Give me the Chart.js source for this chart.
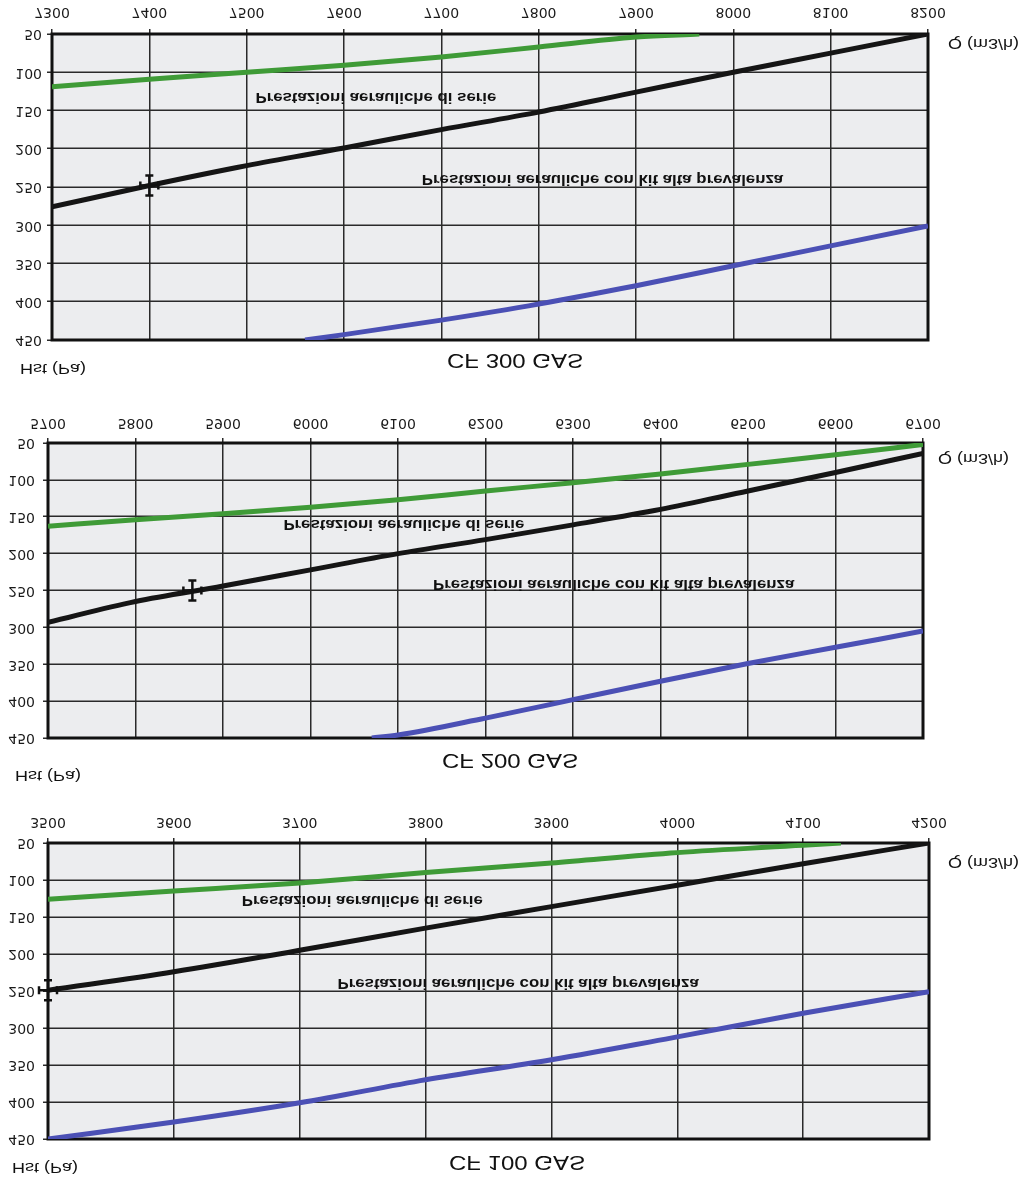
<!DOCTYPE html>
<html>
<head>
<meta charset="utf-8">
<script src="https://cdn.jsdelivr.net/npm/chart.js@4.4.0/dist/chart.umd.min.js"></script>
<style>
html, body { margin: 0; padding: 0; background: #fff; }
.blk { width: 1024px; }
.blk canvas { display: block; transform: scaleY(-1); }
</style>
</head>
<body>
<div class="blk"><canvas id="cf300" width="1024" height="390"></canvas></div>
<div class="blk"><canvas id="cf200" width="1024" height="400"></canvas></div>
<div class="blk"><canvas id="cf100" width="1024" height="388"></canvas></div>
<script>
// CF 300 GAS - portata Q (m3/h), prevalenza Hst (Pa)
const cf300SerieQ = [7300, 7400, 7500, 7600, 7700, 7800, 7900, 7965];
const cf300SerieH = [119, 109, 100, 91, 80, 67, 54, 50];
const cf300NomQ = [7300, 7400, 7500, 7600, 7700, 7800, 7900, 8000, 8100, 8200];
const cf300NomH = [276, 248, 222, 199, 175, 152, 126, 100, 75, 50];
const cf300KitQ = [7560, 7600, 7700, 7800, 7900, 8000, 8100, 8200];
const cf300KitH = [450, 443, 424, 403, 379, 353, 327, 301];
const cf300Point = [7400, 248];

// CF 200 GAS
const cf200SerieQ = [5700, 5800, 5900, 6000, 6100, 6200, 6300, 6400, 6500, 6600, 6700];
const cf200SerieH = [163, 154, 146, 137, 127, 115, 104, 92, 79, 66, 52];
const cf200NomQ = [5700, 5800, 5900, 6000, 6100, 6200, 6300, 6400, 6500, 6600, 6700];
const cf200NomH = [293, 265, 244, 222, 200, 181, 161, 140, 115, 90, 64];
const cf200KitQ = [6070, 6100, 6200, 6300, 6400, 6500, 6600, 6700];
const cf200KitH = [450, 446, 423, 398, 373, 349, 327, 305];
const cf200Point = [5865, 250];

// CF 100 GAS
const cf100SerieQ = [3500, 3600, 3700, 3800, 3900, 4000, 4100, 4130];
const cf100SerieH = [126, 115, 104, 90, 77, 63, 53, 50];
const cf100NomQ = [3500, 3600, 3700, 3800, 3900, 4000, 4100, 4200];
const cf100NomH = [249, 224, 195, 165, 136, 107, 78, 50];
const cf100KitQ = [3500, 3600, 3700, 3800, 3900, 4000, 4100, 4200];
const cf100KitH = [450, 427, 401, 370, 343, 312, 280, 251];
const cf100Point = [3500, 249];

// assi
const hMin = 50, hMax = 450, hStep = 50, qStep = 100;
const cf300Range = [7300, 8200];
const cf200Range = [5700, 6700];
const cf100Range = [3500, 4200];

const txtSerie = 'Prestazioni aerauliche di serie';
const txtKit = 'Prestazioni aerauliche con kit alta prevalenza';

// posizione delle scritte (in valori degli assi)
const cf300Notes = [[7509, 132], [7680, 240]];
const cf200Notes = [[5969, 160], [6140, 241]];
const cf100Notes = [[3654, 127], [3730, 239]];

const colSerie = '#3f9b37';
const colNom = '#151515';
const colKit = '#4b50b5';

function pts(q, h) {
    return q.map((v, i) => ({ x: v, y: h[i] }));
}

function drawText(ctx, txt, x, y, font, align) {
    ctx.save();
    ctx.translate(x, y);
    ctx.scale(1.2, 1); // il disegno originale e' un po' "allargato"
    ctx.font = font;
    ctx.textAlign = align;
    ctx.textBaseline = 'middle';
    ctx.fillStyle = '#111';
    ctx.fillText(txt, 0, 0);
    ctx.restore();
}

function makeChart(id, title, range, series, point, notes, lay) {
    const decor = {
        id: 'decor',
        beforeDraw(chart) {
            const a = chart.chartArea, ctx = chart.ctx;
            ctx.save();
            ctx.fillStyle = '#ecedef';
            ctx.fillRect(a.left, a.top, a.right - a.left, a.bottom - a.top);
            ctx.restore();
        },
        beforeDatasetsDraw(chart) {
            const a = chart.chartArea, ctx = chart.ctx;
            ctx.save();
            ctx.strokeStyle = '#111';
            ctx.lineWidth = 3;
            ctx.strokeRect(a.left, a.top, a.right - a.left, a.bottom - a.top);
            ctx.restore();
        },
        afterDatasetsDraw(chart) {
            const ctx = chart.ctx, sx = chart.scales.x, sy = chart.scales.y;
            // punto di lavoro
            const px = sx.getPixelForValue(point[0]);
            const py = sy.getPixelForValue(point[1]);
            ctx.save();
            ctx.strokeStyle = '#111';
            ctx.lineWidth = 2.5;
            ctx.beginPath();
            ctx.moveTo(px - 9, py); ctx.lineTo(px + 9, py);
            ctx.moveTo(px, py - 10); ctx.lineTo(px, py + 10);
            ctx.moveTo(px - 9, py - 4); ctx.lineTo(px - 9, py + 4);
            ctx.moveTo(px + 9, py - 4); ctx.lineTo(px + 9, py + 4);
            ctx.moveTo(px - 4, py - 10); ctx.lineTo(px + 4, py - 10);
            ctx.moveTo(px - 4, py + 10); ctx.lineTo(px + 4, py + 10);
            ctx.stroke();
            ctx.restore();

            const f = 'bold 14px "Liberation Sans", Arial, sans-serif';
            drawText(ctx, txtSerie, sx.getPixelForValue(notes[0][0]), sy.getPixelForValue(notes[0][1]), f, 'left');
            drawText(ctx, txtKit, sx.getPixelForValue(notes[1][0]), sy.getPixelForValue(notes[1][1]), f, 'left');

            drawText(ctx, title, lay.titleX, lay.titleY, '20px "Liberation Sans", Arial, sans-serif', 'center');
            drawText(ctx, 'Hst (Pa)', lay.hstX, lay.hstY, '15px "Liberation Sans", Arial, sans-serif', 'left');
            drawText(ctx, 'Q (m3/h)', lay.qX, lay.qY, '15px "Liberation Sans", Arial, sans-serif', 'left');
        }
    };

    return new Chart(document.getElementById(id), {
        type: 'line',
        data: {
            datasets: series.map(s => ({
                data: pts(s.q, s.h),
                borderColor: s.color,
                borderWidth: 5,
                pointRadius: 0,
                tension: 0.3,
                cubicInterpolationMode: 'monotone',
                fill: false
            }))
        },
        options: {
            responsive: false,
            animation: false,
            layout: { padding: lay.pad },
            plugins: { legend: { display: false }, tooltip: { enabled: false } },
            scales: {
                x: {
                    type: 'linear',
                    min: range[0],
                    max: range[1],
                    afterFit: (axis) => { axis.height = lay.xHeight; },
                    ticks: {
                        stepSize: qStep,
                        padding: lay.xPad,
                        color: '#1a1a1a',
                        font: { family: 'DejaVu Sans', size: 14 },
                        callback: (v) => String(v)
                    },
                    grid: { color: '#2a2a2a', lineWidth: 1.5, tickLength: 5 },
                    border: { display: false }
                },
                y: {
                    min: hMin,
                    max: hMax,
                    afterFit: (axis) => { axis.width = lay.yWidth; },
                    ticks: {
                        stepSize: hStep,
                        padding: lay.yPad,
                        color: '#1a1a1a',
                        font: { family: 'DejaVu Sans', size: 14 },
                        callback: (v) => String(v)
                    },
                    grid: { color: '#2a2a2a', lineWidth: 1.5, tickLength: 5 },
                    border: { display: false }
                }
            }
        },
        plugins: [decor]
    });
}

makeChart('cf300', 'CF 300 GAS', cf300Range, [
    { q: cf300SerieQ, h: cf300SerieH, color: colSerie },
    { q: cf300NomQ, h: cf300NomH, color: colNom },
    { q: cf300KitQ, h: cf300KitH, color: colKit }
], cf300Point, cf300Notes, {
    pad: { top: 50, left: 0, right: 96, bottom: 4 },
    yWidth: 52, xHeight: 30, yPad: 5, xPad: 9,
    titleX: 515, titleY: 30, hstX: 20, hstY: 22, qX: 948, qY: 347
});

makeChart('cf200', 'CF 200 GAS', cf200Range, [
    { q: cf200SerieQ, h: cf200SerieH, color: colSerie },
    { q: cf200NomQ, h: cf200NomH, color: colNom },
    { q: cf200KitQ, h: cf200KitH, color: colKit }
], cf200Point, cf200Notes, {
    pad: { top: 52, left: 0, right: 101, bottom: 23 },
    yWidth: 48, xHeight: 30, yPad: 8, xPad: 7,
    titleX: 510, titleY: 30, hstX: 15, hstY: 15, qX: 938, qY: 332
});

makeChart('cf100', 'CF 100 GAS', cf100Range, [
    { q: cf100SerieQ, h: cf100SerieH, color: colSerie },
    { q: cf100NomQ, h: cf100NomH, color: colNom },
    { q: cf100KitQ, h: cf100KitH, color: colKit }
], cf100Point, cf100Notes, {
    pad: { top: 39, left: 0, right: 95, bottom: 23 },
    yWidth: 48, xHeight: 30, yPad: 8, xPad: 8,
    titleX: 517, titleY: 16, hstX: 12, hstY: 11, qX: 948, qY: 316
});
</script>
</body>
</html>
